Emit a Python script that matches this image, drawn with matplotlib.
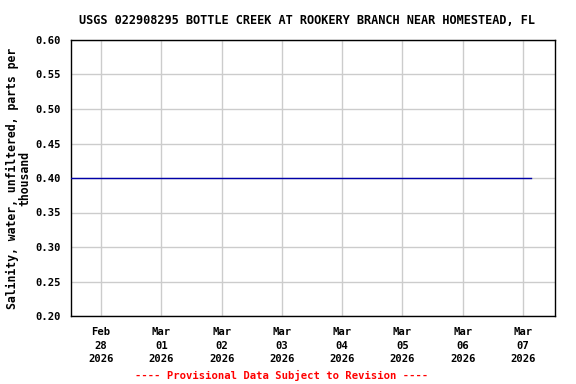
import matplotlib
matplotlib.use("Agg")
import matplotlib.pyplot as plt
import pandas as pd

# Salinity readings (constant over the period)
times = pd.to_datetime(["2026-02-27 12:00", "2026-02-28 12:00", "2026-03-01 12:00",
                        "2026-03-02 12:00", "2026-03-03 12:00", "2026-03-04 12:00",
                        "2026-03-05 12:00", "2026-03-06 12:00", "2026-03-07 03:00"])
salinity = [0.40, 0.40, 0.40, 0.40, 0.40, 0.40, 0.40, 0.40, 0.40]

tick_dates = pd.date_range("2026-02-28", "2026-03-07", freq="D")
y_ticks = [0.20, 0.25, 0.30, 0.35, 0.40, 0.45, 0.50, 0.55, 0.60]

plt.rcParams["font.family"] = "DejaVu Sans Mono"
plt.rcParams["font.weight"] = "bold"

fig = plt.figure(figsize=(5.76, 3.84), dpi=100)
ax = fig.add_axes([71 / 576, 1 - 316 / 384, (555 - 71) / 576, (316 - 40) / 384])

ax.plot(times, salinity, color="#0000a8", linewidth=1.0, zorder=3)

ax.set_xlim(pd.Timestamp("2026-02-27 12:00"), pd.Timestamp("2026-03-07 12:45"))
ax.set_ylim(0.20, 0.60)
ax.set_yticks(y_ticks)
ax.set_yticklabels([f"{v:.2f}" for v in y_ticks], fontsize=7.6, fontweight="bold")
ax.set_xticks(tick_dates)
ax.set_xticklabels([d.strftime("%b\n%d\n%Y") for d in tick_dates],
                   fontsize=7.6, fontweight="bold", linespacing=1.45)
ax.tick_params(axis="y", length=0, pad=7)
ax.tick_params(axis="x", length=0, pad=8)

ax.grid(True, color="#cccccc", linewidth=1.0)
ax.set_axisbelow(True)
for s in ax.spines.values():
    s.set_color("black")
    s.set_linewidth(1.0)

ax.set_ylabel("Salinity, water, unfiltered, parts per\nthousand", fontsize=8.3,
              fontweight="bold", linespacing=0.95, labelpad=3)
fig.text(307 / 576, 1 - 20 / 384,
         "USGS 022908295 BOTTLE CREEK AT ROOKERY BRANCH NEAR HOMESTEAD, FL",
         ha="center", va="center", fontsize=8.6, fontweight="bold")
fig.text(282 / 576, 1 - 375 / 384,
         "---- Provisional Data Subject to Revision ----",
         ha="center", va="center", fontsize=7.6, fontweight="bold", color="red")

fig.savefig("out.png", dpi=100)
